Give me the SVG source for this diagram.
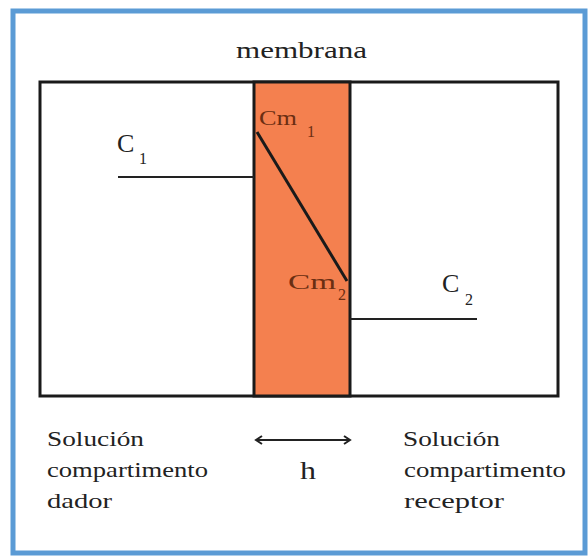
<svg xmlns="http://www.w3.org/2000/svg" width="588" height="559" viewBox="0 0 588 559" font-family="Liberation Serif, Times New Roman, serif">
<style>
.t{fill:#222}
.cm{fill:#6b2e12}
.ln{stroke:#222;stroke-width:2;fill:none}
</style>
<rect x="0" y="0" width="588" height="559" fill="#ffffff"/>
<rect x="13" y="11" width="572" height="542" fill="#ffffff" stroke="#5b9bd5" stroke-width="5"/>
<g id="box">
<rect x="40" y="82" width="518" height="314" fill="#ffffff" stroke="#1a1a1a" stroke-width="3"/>
</g>
<g id="membrane">
<rect x="254" y="82" width="96" height="314" fill="#f4804f" stroke="#1a1a1a" stroke-width="3"/>
<text class="t" x="236" y="58" font-size="23" textLength="131" lengthAdjust="spacingAndGlyphs">membrana</text>
</g>
<g id="connectors">
<line class="ln" x1="118" y1="177" x2="254" y2="177"/>
<line class="ln" x1="350" y1="319" x2="477" y2="319"/>
<line x1="257" y1="132" x2="347" y2="281" stroke="#1a1a1a" stroke-width="3"/>
<path class="ln" stroke-width="1.5" d="M256 440 H350 M262 436 L256 440 L262 444 M344 436 L350 440 L344 444"/>
</g>
<g id="c1">
<text class="t" x="117" y="152" font-size="26">C</text>
<text class="t" x="139" y="164" font-size="16">1</text>
</g>
<g id="c2">
<text class="t" x="442" y="292" font-size="26">C</text>
<text class="t" x="465" y="305" font-size="16">2</text>
</g>
<g id="cm1">
<text class="cm" x="259" y="125" font-size="22" textLength="38" lengthAdjust="spacingAndGlyphs">Cm</text>
<text class="cm" x="307" y="137" font-size="16">1</text>
</g>
<g id="cm2">
<text class="cm" x="288" y="289" font-size="22" textLength="48" lengthAdjust="spacingAndGlyphs">Cm</text>
<text class="cm" x="338" y="300" font-size="16">2</text>
</g>
<g id="donor" font-size="22">
<text class="t" x="47" y="446" textLength="97" lengthAdjust="spacingAndGlyphs">Solución</text>
<text class="t" x="47" y="477" textLength="161" lengthAdjust="spacingAndGlyphs">compartimento</text>
<text class="t" x="47" y="508" textLength="65" lengthAdjust="spacingAndGlyphs">dador</text>
</g>
<g id="h">
<text class="t" x="300" y="479" font-size="26" textLength="16" lengthAdjust="spacingAndGlyphs">h</text>
</g>
<g id="receptor" font-size="22">
<text class="t" x="403" y="446" textLength="97" lengthAdjust="spacingAndGlyphs">Solución</text>
<text class="t" x="404" y="477" textLength="162" lengthAdjust="spacingAndGlyphs">compartimento</text>
<text class="t" x="404" y="508" textLength="100" lengthAdjust="spacingAndGlyphs">receptor</text>
</g>
</svg>
